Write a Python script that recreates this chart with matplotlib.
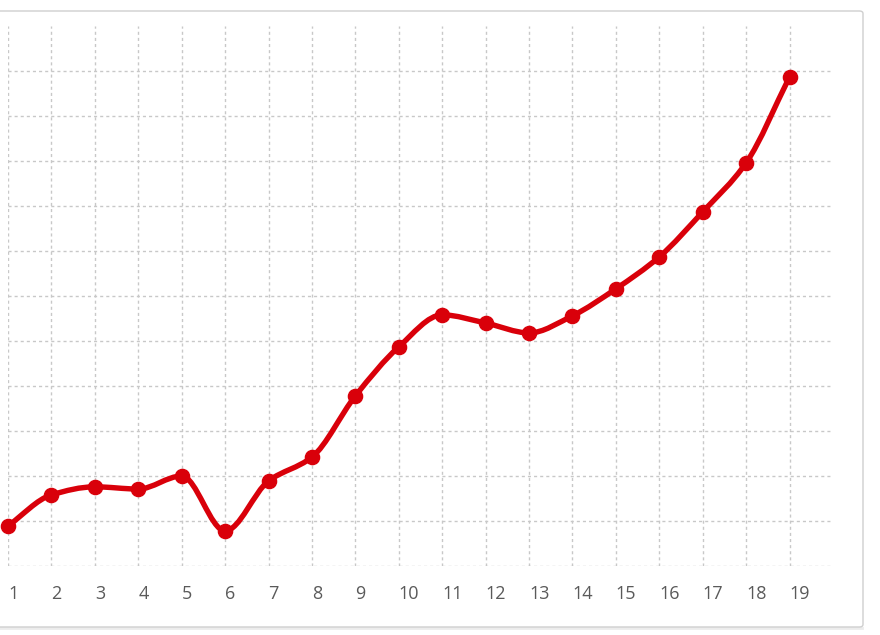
import matplotlib.pyplot as plt
import numpy as np
from matplotlib.patches import FancyBboxPatch
from matplotlib.path import Path
from matplotlib.patches import PathPatch

# data (one grid step = 10)
days = list(range(1, 20))
values = [8.9, 15.8, 17.6, 17.1, 20.0, 7.8, 18.9, 24.2, 37.8, 48.7,
          55.8, 54.0, 51.8, 55.6, 61.6, 68.7, 78.7, 89.6, 108.7]
labels = [str(d) for d in days]

line_color = '#d9000a'
grid_color = '#c8c8c8'

fig = plt.figure(figsize=(8.8, 6.35), dpi=100)
fig.patch.set_facecolor('white')

# card behind the chart
W, H = 880, 635
card = FancyBboxPatch((-20 / W, 8 / H), 883 / W, 616 / H,
                      boxstyle='round,pad=0,rounding_size=0.004',
                      transform=fig.transFigure, facecolor='white',
                      edgecolor='#cfcfcf', linewidth=1.0, zorder=-2)
fig.patches.append(card)
fig.add_artist(plt.Line2D([0, 862 / W], [7 / H, 7 / H], transform=fig.transFigure,
                          color='#ececec', linewidth=2, zorder=-3))

ax = fig.add_axes([8 / W, 69 / H, 825 / W, 540 / H])
ax.set_zorder(1)
ax.set_xlim(1, 20)
ax.set_ylim(0, 120)
ax.patch.set_alpha(0)
for s in ax.spines.values():
    s.set_visible(False)

# dashed grid
ax.vlines(days, 0, 120, colors=grid_color, linestyles=(0, (2.2, 2.2)), linewidth=1, zorder=1)
ax.hlines(np.arange(0, 120, 10), 1, 20, colors=grid_color, linestyles=(0, (2.2, 2.2)),
          linewidth=1, zorder=1)

# smooth monotone curve through the points (drawn as bezier segments)
x = np.array(days, dtype=float)
y = np.array(values, dtype=float)
d = np.diff(y) / np.diff(x)
m = np.zeros_like(y)
m[0], m[-1] = d[0], d[-1]
for i in range(1, len(y) - 1):
    if d[i - 1] * d[i] <= 0:
        m[i] = 0
    else:
        m[i] = 2 / (1 / d[i - 1] + 1 / d[i])
verts = [(x[0], y[0])]
codes = [Path.MOVETO]
for i in range(len(x) - 1):
    h = (x[i + 1] - x[i]) / 3
    verts += [(x[i] + h, y[i] + m[i] * h), (x[i + 1] - h, y[i + 1] - m[i + 1] * h),
              (x[i + 1], y[i + 1])]
    codes += [Path.CURVE4] * 3
ax.add_patch(PathPatch(Path(verts, codes), facecolor='none', edgecolor=line_color,
                       linewidth=3.9, capstyle='round', joinstyle='round',
                       zorder=3, clip_on=False))
ax.plot(days, values, 'o', color=line_color, markersize=10.2, zorder=4, clip_on=False)

ax.set_xticks(days)
ax.set_xticklabels(labels)
ax.set_yticks([])
ax.tick_params(axis='x', length=0, pad=14, labelsize=13, labelcolor='#5a5a5a')
for t in ax.get_xticklabels():
    t.set_fontfamily('Open Sans')
    t.set_horizontalalignment('left')

fig.savefig('out.png', dpi=100)
